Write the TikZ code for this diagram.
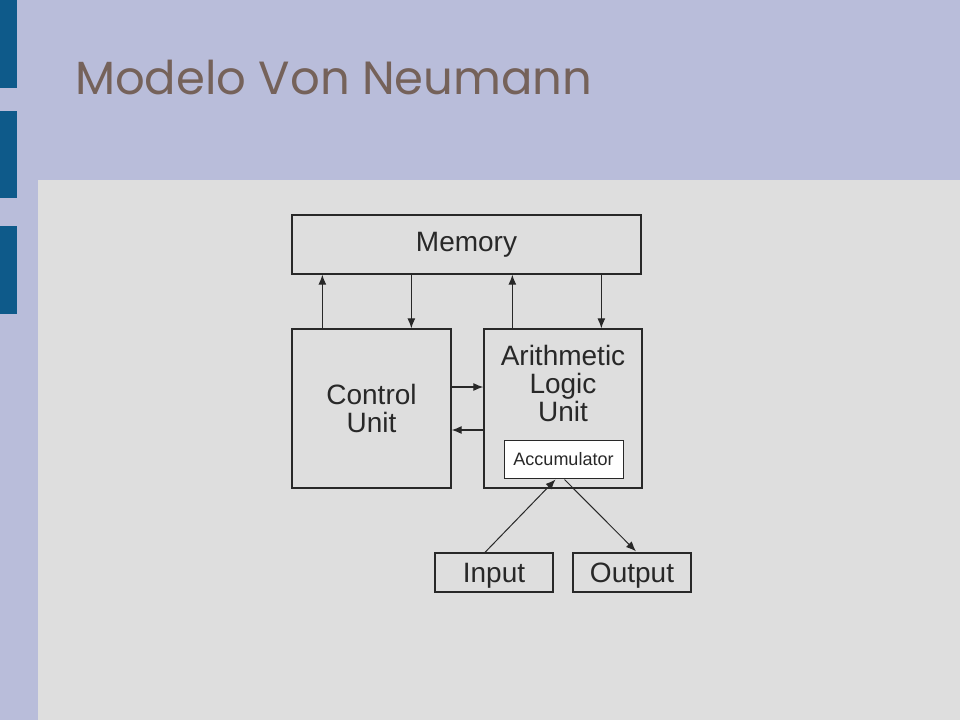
\documentclass[tikz,border=0pt]{standalone}
\usepackage{fontspec}
\setmainfont{Liberation Sans}
\newfontfamily\titlefont{Poppins}
\usetikzlibrary{arrows.meta,positioning,calc}
\definecolor{vnsky}{RGB}{185,189,218}
\definecolor{vnpanel}{RGB}{222,222,222}
\definecolor{vnbar}{RGB}{14,90,138}
\definecolor{vnbrown}{RGB}{117,98,90}
\definecolor{vnline}{RGB}{40,40,40}
\tikzset{
  vblk/.style={rectangle, draw=vnline, line width=1.3pt, fill=vnpanel, text=vnline,
               align=center, inner sep=0pt, font=\fontsize{28}{28}\selectfont},
  varr/.style={-{Latex[length=10pt,width=8pt]}, line width=1.2pt, vnline},
}
\begin{document}
\begin{tikzpicture}[x=1pt,y=-1pt]
  \useasboundingbox (0,0) rectangle (960,720);
  % slide background
  \fill[vnsky] (0,0) rectangle (960,720);
  \fill[vnpanel] (38,180) rectangle (960,720);
  \fill[vnbar] (0,0) rectangle (17,88);
  \fill[vnbar] (0,111) rectangle (17,198);
  \fill[vnbar] (0,226) rectangle (17,314);
  \node[anchor=base west, text=vnbrown, inner sep=0pt,
        font=\titlefont\fontsize{46.5}{56}\selectfont] (title) at (75,94) {Modelo Von Neumann};
  % blocks
  \node[vblk, minimum width=349pt, minimum height=59pt] (mem) at (466.5,244.5) {Memory};
  \node[vblk, minimum width=159pt, minimum height=159pt] (cu) at (371.5,408.5) {Control\\Unit};
  \node[vblk, minimum width=158pt, minimum height=159pt] (alu) at (563,408.5) {};
  \node[font=\fontsize{28}{28}\selectfont, text=vnline, align=center, inner sep=0pt] (alutxt) at (563,383) {Arithmetic\\Logic\\Unit};
  \node[vblk, fill=white, line width=1pt, minimum width=119pt, minimum height=38pt,
        font=\fontsize{18}{20}\selectfont] (acc) at (563.5,459) {Accumulator};
  \node[vblk, text depth=0pt, minimum width=118pt, minimum height=39pt] (in) at (494,572.5) {Input};
  \node[vblk, text depth=0pt, minimum width=118pt, minimum height=39pt] (out) at (632,572.5) {Output};
  % connectors
  \draw[varr] ([xshift=31pt]cu.north west) -- ([xshift=31pt]cu.north west |- mem.south);
  \draw[varr] ([xshift=120pt]cu.north west |- mem.south) -- ([xshift=120pt]cu.north west);
  \draw[varr] ([xshift=29pt]alu.north west) -- ([xshift=29pt]alu.north west |- mem.south);
  \draw[varr] ([xshift=118pt]alu.north west |- mem.south) -- ([xshift=118pt]alu.north west);
  \draw[varr] ([yshift=21.5pt]cu.east) -- ([yshift=21.5pt]cu.east -| alu.west);
  \draw[varr] ([yshift=-21.5pt]alu.west) -- ([yshift=-21.5pt]alu.west -| cu.east);
  \draw[varr, line width=1pt] ([xshift=-9pt]in.north) -- ([xshift=-8pt,yshift=-1pt]acc.south);
  \draw[varr, line width=1pt] ([xshift=1pt,yshift=-1pt]acc.south) -- ([xshift=4pt,yshift=1pt]out.north);
\end{tikzpicture}
\end{document}
